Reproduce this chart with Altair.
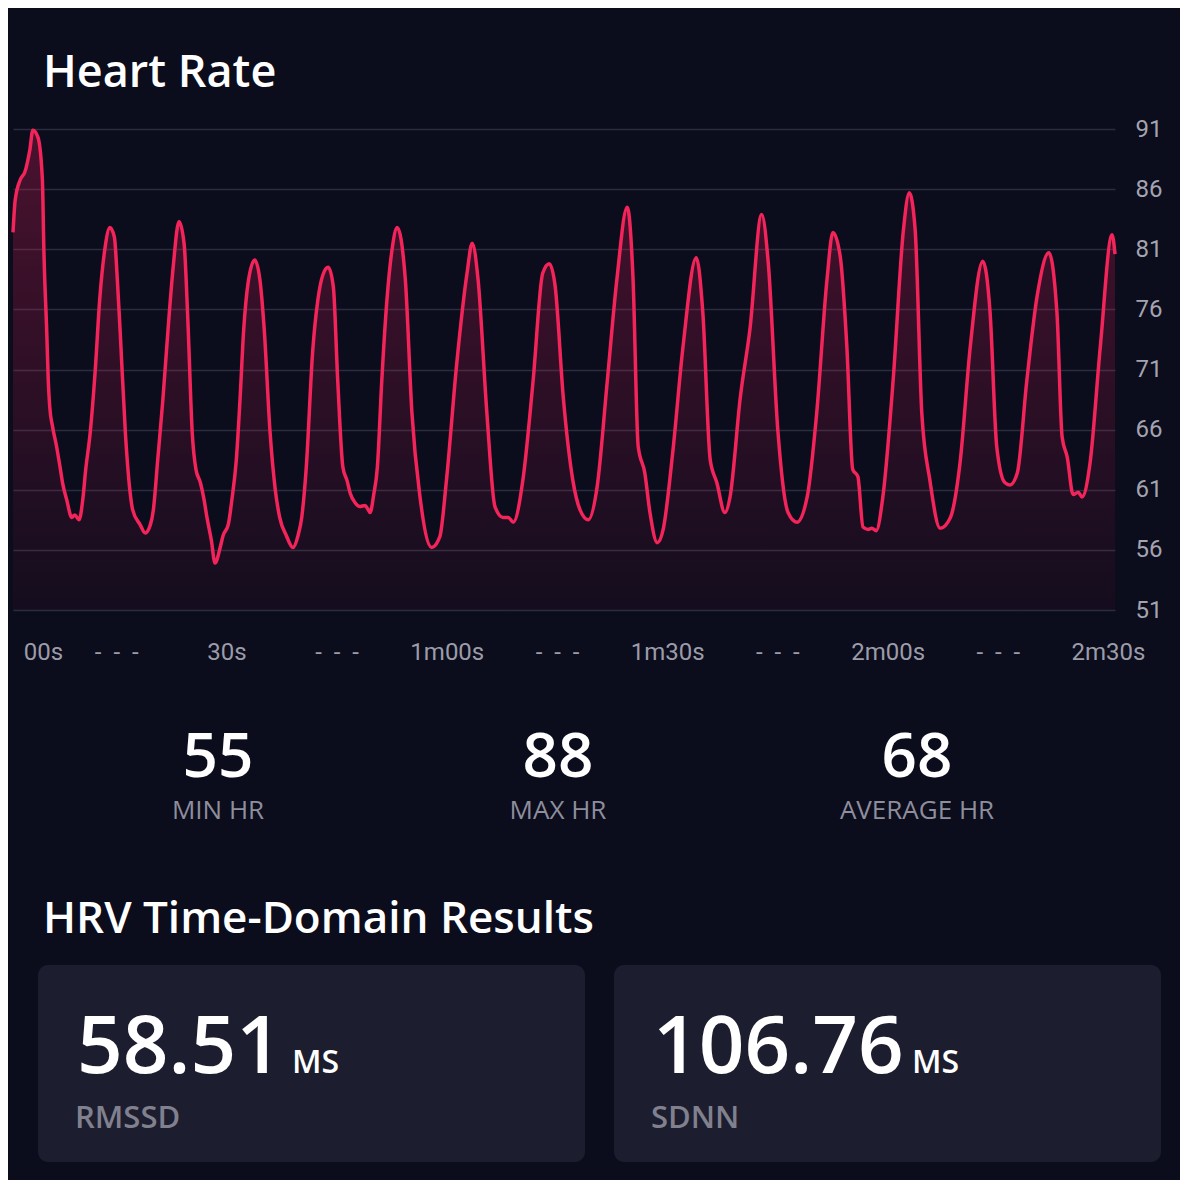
import json

import altair as alt
import pandas as pd

# heart rate trace (seconds, bpm)
time_s = [
    0.0, 0.3, 1.0, 1.6, 2.3, 2.7, 3.4, 4.0, 4.2, 4.6, 4.8, 5.0, 5.4, 5.9, 6.4, 6.8, 7.3, 8.0, 8.4, 9.0,
    9.5, 9.9, 10.5, 11.2, 11.8, 12.5, 13.2, 13.8, 14.2, 14.6, 15.3, 15.9, 16.3, 17.3, 18.0, 18.7, 19.1, 19.7,
    20.4, 21.1, 21.8, 22.6, 23.3, 23.8, 24.4, 24.9, 25.5, 26.0, 26.4, 27.0, 27.5, 28.2, 28.6, 29.3, 29.8,
    30.4, 30.9, 31.4, 32.0, 32.9, 33.6, 34.2, 35.0, 35.7, 36.3, 37.2, 38.1, 38.8, 39.3, 39.9, 40.8, 41.5,
    42.2, 42.9, 43.6, 44.2, 44.9, 45.5, 45.9, 46.6, 47.2, 47.9, 48.3, 48.6, 49.1, 49.6, 50.2, 50.9, 51.6,
    52.3, 53.4, 54.3, 55.4, 57.0, 58.1, 59.0, 60.4, 61.8, 62.5, 63.3, 64.5, 65.6, 66.7, 67.4, 68.1, 69.4,
    70.8, 72.1, 73.0, 73.8, 74.9, 76.2, 77.2, 78.3, 79.5, 80.9, 82.2, 83.6, 84.4, 85.1, 86.0, 86.7, 87.7,
    88.5, 89.8, 91.2, 93.0, 93.9, 94.9, 95.8, 96.9, 97.6, 99.0, 100.3, 101.9, 102.8, 104.1, 105.5, 106.7,
    108.1, 109.4, 110.8, 111.6, 112.6, 113.5, 114.3, 115.0, 115.7, 116.4, 116.9, 117.5, 118.4, 119.8,
    121.2, 122.0, 122.8, 123.7, 124.8, 126.2, 127.6, 128.9, 130.3, 132.0, 133.0, 133.9, 135.0, 135.7,
    136.7, 138.0, 139.4, 141.0, 142.1, 142.8, 143.5, 144.3, 145.0, 145.5, 146.6, 148.0, 149.6, 150.0,
]
heart_rate = [
    82.4, 85.1, 86.8, 87.4, 89.3, 90.9, 90.3, 86.8, 81.0, 74.0, 70.1, 67.9, 66.2, 64.7, 62.9, 61.4, 60.2, 58.7, 58.9, 58.5,
    60.2, 62.7, 65.7, 71.0, 76.8, 81.0, 82.8, 82.0, 78.5, 74.0, 65.7, 61.0, 59.3, 58.1, 57.4, 58.1, 59.3, 63.5,
    68.5, 74.3, 79.5, 83.3, 81.4, 75.1, 65.7, 62.7, 61.6, 60.2, 58.7, 56.8, 54.9, 56.2, 57.2, 58.1, 60.2,
    63.5, 68.5, 74.3, 78.2, 80.1, 78.5, 74.3, 65.7, 61.0, 58.7, 57.2, 56.2, 57.2, 58.7, 62.7, 72.6, 76.8,
    78.9, 79.5, 77.9, 70.1, 62.9, 61.7, 60.7, 59.9, 59.6, 59.7, 59.4, 59.1, 60.6, 62.9, 70.1, 76.8, 81.0,
    82.8, 78.5, 67.4, 60.4, 56.2, 57.1, 61.8, 71.5, 79.0, 81.5, 78.5, 67.4, 59.6, 58.7, 58.7, 58.3, 61.8,
    70.1, 79.0, 79.8, 77.9, 68.7, 61.8, 59.3, 58.5, 61.2, 70.1, 78.5, 84.5, 78.5, 64.6, 62.4, 59.1, 56.6,
    57.7, 64.1, 72.9, 80.3, 75.7, 63.5, 61.6, 59.1, 60.4, 68.7, 74.3, 83.9, 79.9, 66.0, 59.1, 58.3,
    60.4, 67.4, 78.5, 82.4, 80.4, 72.9, 62.7, 62.1, 57.9, 57.7, 57.8, 57.6, 60.4, 70.1,
    82.6, 85.7, 82.6, 67.4, 61.8, 57.8, 58.7, 63.2, 72.9, 80.0, 75.7, 64.6, 61.6, 61.4,
    62.4, 70.1, 77.1, 80.7, 75.7, 65.4, 63.7, 60.6, 60.8, 60.4, 63.2, 72.9, 82.2, 80.6,
]

y_ticks = [51, 56, 61, 66, 71, 76, 81, 86, 91]
x_ticks = [0, 15, 30, 45, 60, 75, 90, 105, 120, 135, 150]
gap = "-\u00a0\u00a0-\u00a0\u00a0-"
x_tick_labels = ["00s", gap, "30s", gap, "1m00s", gap, "1m30s", gap, "2m00s", gap, "2m30s"]

stat_values = ["55", "88", "68"]
stat_labels = ["MIN HR", "MAX HR", "AVERAGE HR"]
hrv_values = ["58.51", "106.76"]
hrv_units = ["MS", "MS"]
hrv_labels = ["RMSSD", "SDNN"]

BG = "#0b0c1c"
CARD = "#1c1d2e"
RED = "#f2245a"
GREY = "#8e8e9c"

hr = pd.DataFrame({"t": time_s, "hr": heart_rate})

label_expr = (
    json.dumps(x_tick_labels, ensure_ascii=False)
    + "[indexof(" + json.dumps(x_ticks) + ", datum.value)]"
)

area = alt.Chart(hr).mark_area(
    interpolate="monotone",
    line={"color": RED, "strokeWidth": 3.5},
    color=alt.Gradient(
        gradient="linear",
        stops=[
            alt.GradientStop(color="rgba(235,32,90,0.40)", offset=0),
            alt.GradientStop(color="rgba(235,32,90,0.06)", offset=1),
        ],
        x1=1, x2=1, y1=0, y2=1,
    ),
).encode(
    x=alt.X("t:Q", scale=alt.Scale(domain=[0, 150], nice=False, zero=False),
            axis=alt.Axis(values=x_ticks, labelExpr=label_expr, title=None, grid=False,
                          ticks=False, domain=False, labelFlush=False, labelOverlap=False,
                          labelFont="Roboto", labelFontSize=24, labelColor="#9c9ca8",
                          labelPadding=30,
                          labelOffset={"condition": {"test": "datum.value == 0", "value": 30},
                                       "value": -7})),
    y=alt.Y("hr:Q", scale=alt.Scale(domain=[51, 91], nice=False, zero=False),
            axis=alt.Axis(orient="right", values=y_ticks, title=None, ticks=False, domain=False,
                          grid=True, gridColor="#2a2c3f", gridWidth=1.5,
                          labelFont="Roboto", labelFontSize=24, labelColor="#a4a4b0",
                          labelPadding=20, labelAlign="left")),
    y2=alt.datum(51),
)


def text(value, x, y, size, color="white", weight=600, align="left"):
    return alt.Chart(pd.DataFrame({"v": [value]})).mark_text(
        align=align, baseline="alphabetic", font="Open Sans",
        fontSize=size, fontWeight=weight, color=color,
    ).encode(x=alt.value(x), y=alt.value(y), text="v:N")


def card(x0, x1):
    return alt.Chart(pd.DataFrame({"c": [0]})).mark_rect(
        color=CARD, cornerRadius=10
    ).encode(x=alt.value(x0), x2=alt.value(x1), y=alt.value(836), y2=alt.value(1033))


layers = [area, text("Heart Rate", 30, -42, 45)]

stat_x = [205, 545, 904]
for v, lab, cx in zip(stat_values, stat_labels, stat_x):
    layers.append(text(v, cx, 648, 62, align="center"))
    layers.append(text(lab, cx, 690, 26, color=GREY, weight=500, align="center"))

layers.append(text("HRV Time-Domain Results", 30, 804, 44))

card_x = [(25, 572), (601, 1148)]
unit_x = [279, 899]
for (x0, x1), v, u, lab, ux in zip(card_x, hrv_values, hrv_units, hrv_labels, unit_x):
    layers.append(card(x0, x1))
    layers.append(text(v, x0 + 39, 944, 80))
    layers.append(text(u, ux, 944, 32))
    layers.append(text(lab, x0 + 37, 999, 31, color="#80808e"))

chart = alt.layer(*layers).properties(
    width=1102,
    height=481,
    autosize=alt.AutoSizeParams(type="none"),
    padding={"left": 5, "top": 121, "right": 65, "bottom": 570},
).configure(
    background=BG
).configure_view(
    strokeWidth=0
)

chart.save("out.html", embed_options={"renderer": "svg", "actions": False})
